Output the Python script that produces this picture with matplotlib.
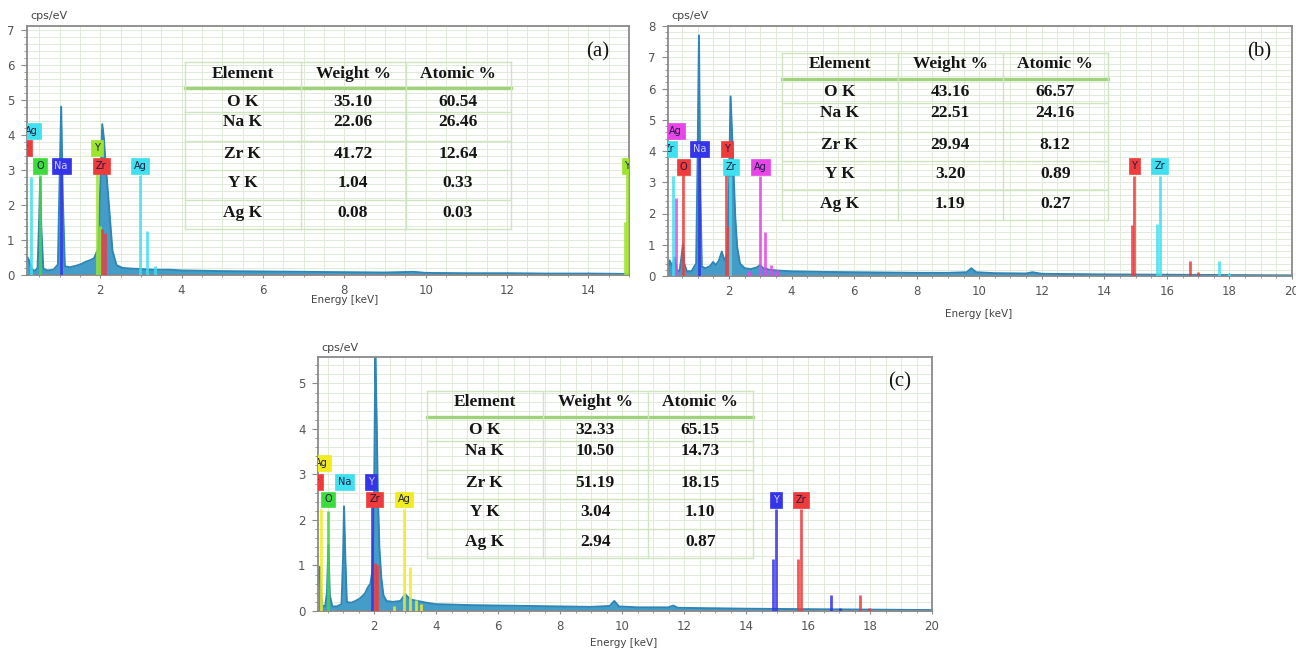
import matplotlib
matplotlib.use('Agg')
import matplotlib.pyplot as plt
from matplotlib.ticker import MultipleLocator

# ---------------- data ----------------
elements = ['O K', 'Na K', 'Zr K', 'Y K', 'Ag K']
headers = ['Element', 'Weight %', 'Atomic %']
weight_a = [35.10, 22.06, 41.72, 1.04, 0.08]
atomic_a = [60.54, 26.46, 12.64, 0.33, 0.03]
weight_b = [43.16, 22.51, 29.94, 3.20, 1.19]
atomic_b = [66.57, 24.16, 8.12, 0.89, 0.27]
weight_c = [32.33, 10.50, 51.19, 3.04, 2.94]
atomic_c = [65.15, 14.73, 18.15, 1.10, 0.87]

energy_a = [0.20, 0.24, 0.28, 0.33, 0.40, 0.46, 0.50, 0.525, 0.55, 0.60, 0.70, 0.85, 0.96, 1.00, 1.04,
            1.08, 1.13, 1.25, 1.40, 1.55, 1.65, 1.75, 1.85, 1.95, 2.00, 2.05, 2.09, 2.13, 2.18, 2.24,
            2.30, 2.40, 2.55, 2.80, 3.00, 3.30, 3.70, 4.00, 5.00, 6.00, 7.00, 8.00, 9.00, 9.70, 10.0,
            11.0, 12.0, 13.0, 14.0, 15.0]
counts_a = [0.52, 0.45, 0.30, 0.15, 0.12, 0.20, 1.6, 2.75, 1.4, 0.18, 0.13, 0.15, 0.30, 2.6, 4.8,
            2.2, 0.25, 0.22, 0.26, 0.32, 0.38, 0.42, 0.48, 0.75, 2.5, 4.3, 3.9, 3.2, 2.5, 1.6,
            0.7, 0.28, 0.2, 0.18, 0.17, 0.15, 0.15, 0.13, 0.11, 0.1, 0.09, 0.08, 0.07, 0.09, 0.06,
            0.05, 0.05, 0.04, 0.04, 0.03]

energy_b = [0.05, 0.10, 0.15, 0.20, 0.26, 0.33, 0.42, 0.48, 0.525, 0.57, 0.65, 0.80, 0.95, 1.00, 1.04,
            1.08, 1.13, 1.25, 1.40, 1.49, 1.58, 1.68, 1.77, 1.85, 1.95, 2.00, 2.05, 2.10, 2.15, 2.20,
            2.26, 2.35, 2.50, 2.70, 2.90, 2.99, 3.10, 3.30, 3.60, 4.0, 5.0, 6.0, 7.0, 8.0, 9.0,
            9.6, 9.75, 9.9, 10.5, 11.5, 11.7, 12.0, 14.0, 16.0, 18.0, 20.0]
counts_b = [0.1, 0.5, 0.4, 0.3, 0.6, 0.2, 0.15, 0.6, 1.0, 0.4, 0.15, 0.15, 0.4, 4.0, 7.7,
            3.0, 0.3, 0.25, 0.32, 0.45, 0.35, 0.5, 0.78, 0.5, 0.7, 2.8, 5.75, 4.5, 3.2, 1.9,
            0.94, 0.4, 0.25, 0.22, 0.28, 0.35, 0.25, 0.2, 0.17, 0.15, 0.13, 0.12, 0.11, 0.1, 0.1,
            0.12, 0.25, 0.12, 0.09, 0.08, 0.12, 0.07, 0.05, 0.04, 0.03, 0.02]

energy_c = [0.19, 0.22, 0.25, 0.28, 0.33, 0.42, 0.48, 0.525, 0.57, 0.65, 0.80, 0.95, 1.00, 1.03, 1.07,
            1.12, 1.25, 1.40, 1.55, 1.70, 1.80, 1.88, 1.95, 2.00, 2.04, 2.08, 2.12, 2.17, 2.23, 2.30,
            2.40, 2.60, 2.85, 3.00, 3.10, 3.20, 3.40, 3.70, 4.0, 5.0, 6.0, 7.0, 8.0, 9.0, 9.6,
            9.75, 9.9, 10.5, 11.5, 11.65, 11.8, 14.0, 16.0, 18.0, 20.0]
counts_c = [0.6, 0.9, 0.97, 0.5, 0.12, 0.1, 0.4, 1.45, 0.35, 0.1, 0.1, 0.15, 1.2, 2.3, 1.2,
            0.2, 0.18, 0.22, 0.28, 0.38, 0.52, 0.6, 0.9, 2.5, 5.6, 4.3, 2.6, 1.4, 0.75, 0.35,
            0.22, 0.2, 0.22, 0.37, 0.3, 0.25, 0.22, 0.18, 0.15, 0.13, 0.12, 0.11, 0.1, 0.09, 0.11,
            0.22, 0.1, 0.08, 0.08, 0.12, 0.07, 0.05, 0.04, 0.03, 0.02]

# element marker lines: (element, energy keV, height cps/eV)
lines_a = [('Ag', 0.31, 2.8), ('O', 0.525, 2.85), ('Na', 1.04, 2.9), ('Y', 1.92, 3.35), ('Y', 1.99, 1.4),
           ('Zr', 2.04, 1.3), ('Zr', 2.12, 1.2), ('Ag', 2.98, 2.85), ('Ag', 3.15, 1.25), ('Ag', 3.35, 0.25),
           ('Y', 14.96, 3.0), ('Y', 14.89, 1.5)]
labels_a = [('Ag', 0.31, 4.1), ('Zr', 0.11, 3.63), ('O', 0.52, 3.1), ('Na', 1.04, 3.1), ('Y', 1.92, 3.63),
            ('Zr', 2.03, 3.1), ('Ag', 2.98, 3.1), ('Y', 14.96, 3.1)]

lines_b = [('Zr', 0.22, 3.2), ('Ag', 0.31, 2.5), ('O', 0.525, 3.3), ('Na', 1.04, 3.8), ('Y', 1.92, 3.3),
           ('Y', 1.99, 1.6), ('Zr', 2.04, 3.2), ('Ag', 2.98, 3.2), ('Ag', 3.15, 1.4), ('Ag', 3.35, 0.35),
           ('Ag', 2.63, 0.15), ('Ag', 3.52, 0.2), ('Y', 14.96, 3.2), ('Y', 14.88, 1.63), ('Y', 16.74, 0.48),
           ('Y', 17.0, 0.12), ('Zr', 15.77, 3.2), ('Zr', 15.69, 1.65), ('Zr', 17.67, 0.48), ('Zr', 17.97, 0.1)]
labels_b = [('Ag', 0.29, 4.63), ('Zr', 0.07, 4.06), ('Na', 1.06, 4.06), ('O', 0.55, 3.5), ('Y', 1.93, 4.06),
            ('Zr', 2.06, 3.5), ('Ag', 3.0, 3.5), ('Y', 14.96, 3.53), ('Zr', 15.77, 3.53)]

lines_c = [('Ag', 0.28, 2.25), ('O', 0.525, 2.2), ('Y', 1.92, 2.6), ('Zr', 2.04, 1.05), ('Zr', 2.10, 1.0),
           ('Ag', 2.98, 2.25), ('Ag', 3.15, 0.97), ('Ag', 3.35, 0.25), ('Ag', 2.63, 0.12), ('Ag', 3.52, 0.15),
           ('Y', 14.96, 2.25), ('Y', 14.88, 1.15), ('Y', 16.74, 0.35), ('Y', 17.02, 0.07),
           ('Zr', 15.77, 2.25), ('Zr', 15.69, 1.15), ('Zr', 17.67, 0.35), ('Zr', 17.97, 0.07)]
labels_c = [('Ag', 0.30, 3.26), ('Zr', 0.07, 2.84), ('O', 0.52, 2.45), ('Na', 1.05, 2.84), ('Y', 1.91, 2.84),
            ('Zr', 2.02, 2.45), ('Ag', 2.96, 2.45), ('Y', 14.97, 2.44), ('Zr', 15.78, 2.44)]

# ---------------- styles ----------------
CYAN = '#3fe0ef'; RED = '#ef3b3b'; GREEN = '#3ddc3d'; BLUE = '#3434e8'
LIME = '#9de42c'; MAGENTA = '#e845e8'; YELLOW = '#f0ec1e'
pal_a = {'Ag': CYAN, 'Zr': RED, 'O': GREEN, 'Na': BLUE, 'Y': LIME}
pal_b = {'Ag': MAGENTA, 'Zr': CYAN, 'O': RED, 'Na': BLUE, 'Y': RED}
pal_c = {'Ag': YELLOW, 'Zr': RED, 'O': GREEN, 'Na': CYAN, 'Y': BLUE}

FILL = '#449dc8'; EDGE = '#2f86b6'
GRID = '#e0ebd9'; SPINE = '#8a8a8a'; TICKC = '#555555'
TBL = '#cfe5c0'; HDR = '#9fd27a'

W, H = 1296, 654
fig = plt.figure(figsize=(W / 100, H / 100), dpi=100)
fig.patch.set_facecolor('white')


def px_axes(l, t, r, b):
    return [l / W, 1 - b / H, (r - l) / W, (b - t) / H]


def draw_panel(ax, energy, counts, lines, labels, pal, xlim, ylim):
    ax.set_xlim(*xlim)
    ax.set_ylim(*ylim)
    ax.xaxis.set_major_locator(MultipleLocator(2))
    ax.xaxis.set_minor_locator(MultipleLocator(0.5))
    ax.yaxis.set_major_locator(MultipleLocator(1))
    ax.yaxis.set_minor_locator(MultipleLocator(0.2))
    ax.grid(which='both', color=GRID, lw=0.7)
    ax.set_axisbelow(True)
    for s in ax.spines.values():
        s.set_color(SPINE)
        s.set_linewidth(1.3)
    ax.tick_params(axis='both', which='both', colors=SPINE, labelcolor=TICKC, labelsize=8.5)
    ax.tick_params(axis='x', which='major', direction='inout', length=5, pad=4)
    ax.tick_params(axis='x', which='minor', direction='inout', length=3)
    ax.tick_params(axis='y', which='major', direction='out', length=4, pad=5)
    ax.tick_params(axis='y', which='minor', direction='out', length=2.5)
    ax.fill_between(energy, counts, 0, color=FILL, lw=0, zorder=2)
    ax.plot(energy, counts, color=EDGE, lw=1.4, zorder=2, solid_joinstyle='round')
    for el, e, h in lines:
        ax.plot([e, e], [0, h], color=pal[el], lw=2.0, alpha=0.85, zorder=3, solid_capstyle='butt')
    for el, e, h in labels:
        c = pal[el]
        tc = '#d0d0ff' if c == BLUE else '#1c1c40'
        ax.text(e, h, el, ha='center', va='center', fontsize=7, color=tc, zorder=4, clip_on=True,
                bbox=dict(boxstyle='square,pad=0.3', fc=c, ec=c, lw=0.5))


ax_a = fig.add_axes(px_axes(27, 26, 629, 275))
ax_b = fig.add_axes(px_axes(668, 26, 1292, 276))
ax_c = fig.add_axes(px_axes(318, 357, 932, 611))
draw_panel(ax_a, energy_a, counts_a, lines_a, labels_a, pal_a, (0.2, 15.0), (0, 7.1))
draw_panel(ax_b, energy_b, counts_b, lines_b, labels_b, pal_b, (0.05, 20.0), (0, 8.0))
draw_panel(ax_c, energy_c, counts_c, lines_c, labels_c, pal_c, (0.19, 20.0), (0, 5.58))

# overlay in pixel coordinates for tables and annotations
ov = fig.add_axes([0, 0, 1, 1], zorder=10)
ov.set_xlim(0, W)
ov.set_ylim(H, 0)
ov.axis('off')
ov.patch.set_alpha(0)

row_rel = [0, 26, 50, 79, 108, 137.5, 167]
text_rel = [11.5, 39.5, 60, 92, 121, 151]
col_rel = [0, 116, 221, 326]
SERIF = dict(family='Liberation Serif', weight='bold', fontsize=12.5, color='#151515')


def draw_table(x0, y0, weights, atomics):
    for i, yr in enumerate(row_rel):
        if i == 1:
            ov.plot([x0, x0 + col_rel[-1]], [y0 + yr] * 2, color=HDR, lw=2.4)
        else:
            ov.plot([x0, x0 + col_rel[-1]], [y0 + yr] * 2, color=TBL, lw=1.0)
    for xr in col_rel:
        ov.plot([x0 + xr] * 2, [y0, y0 + row_rel[-1]], color=TBL, lw=1.0)
    cx = [x0 + (col_rel[i] + col_rel[i + 1]) / 2 for i in range(3)]
    for j, hd in enumerate(headers):
        ov.text(cx[j], y0 + text_rel[0], hd, ha='center', va='center', **SERIF)
    for i, el in enumerate(elements):
        yy = y0 + text_rel[i + 1]
        ov.text(cx[0], yy, el, ha='center', va='center', **SERIF)
        ov.text(cx[1], yy, f'{weights[i]:.2f}', ha='center', va='center', **SERIF)
        ov.text(cx[2], yy, f'{atomics[i]:.2f}', ha='center', va='center', **SERIF)


draw_table(184.5, 62, weight_a, atomic_a)
draw_table(781.7, 52.7, weight_b, atomic_b)
draw_table(426.7, 391, weight_c, atomic_c)

for x, y, t in [(598, 52, '(a)'), (1259, 52, '(b)'), (900, 382, '(c)')]:
    ov.text(x, y, t, ha='center', va='center', family='Liberation Serif', fontsize=15, color='#151515')

for x, y in [(30, 16), (671, 16), (321, 348)]:
    ov.text(x, y, 'cps/eV', ha='left', va='center', fontsize=8, color='#444444')

for x, y in [(345, 300), (979, 314), (624, 643)]:
    ov.text(x, y, 'Energy [keV]', ha='center', va='center', fontsize=7.5, color='#444444')

fig.savefig('out.png', dpi=100, facecolor='white')
